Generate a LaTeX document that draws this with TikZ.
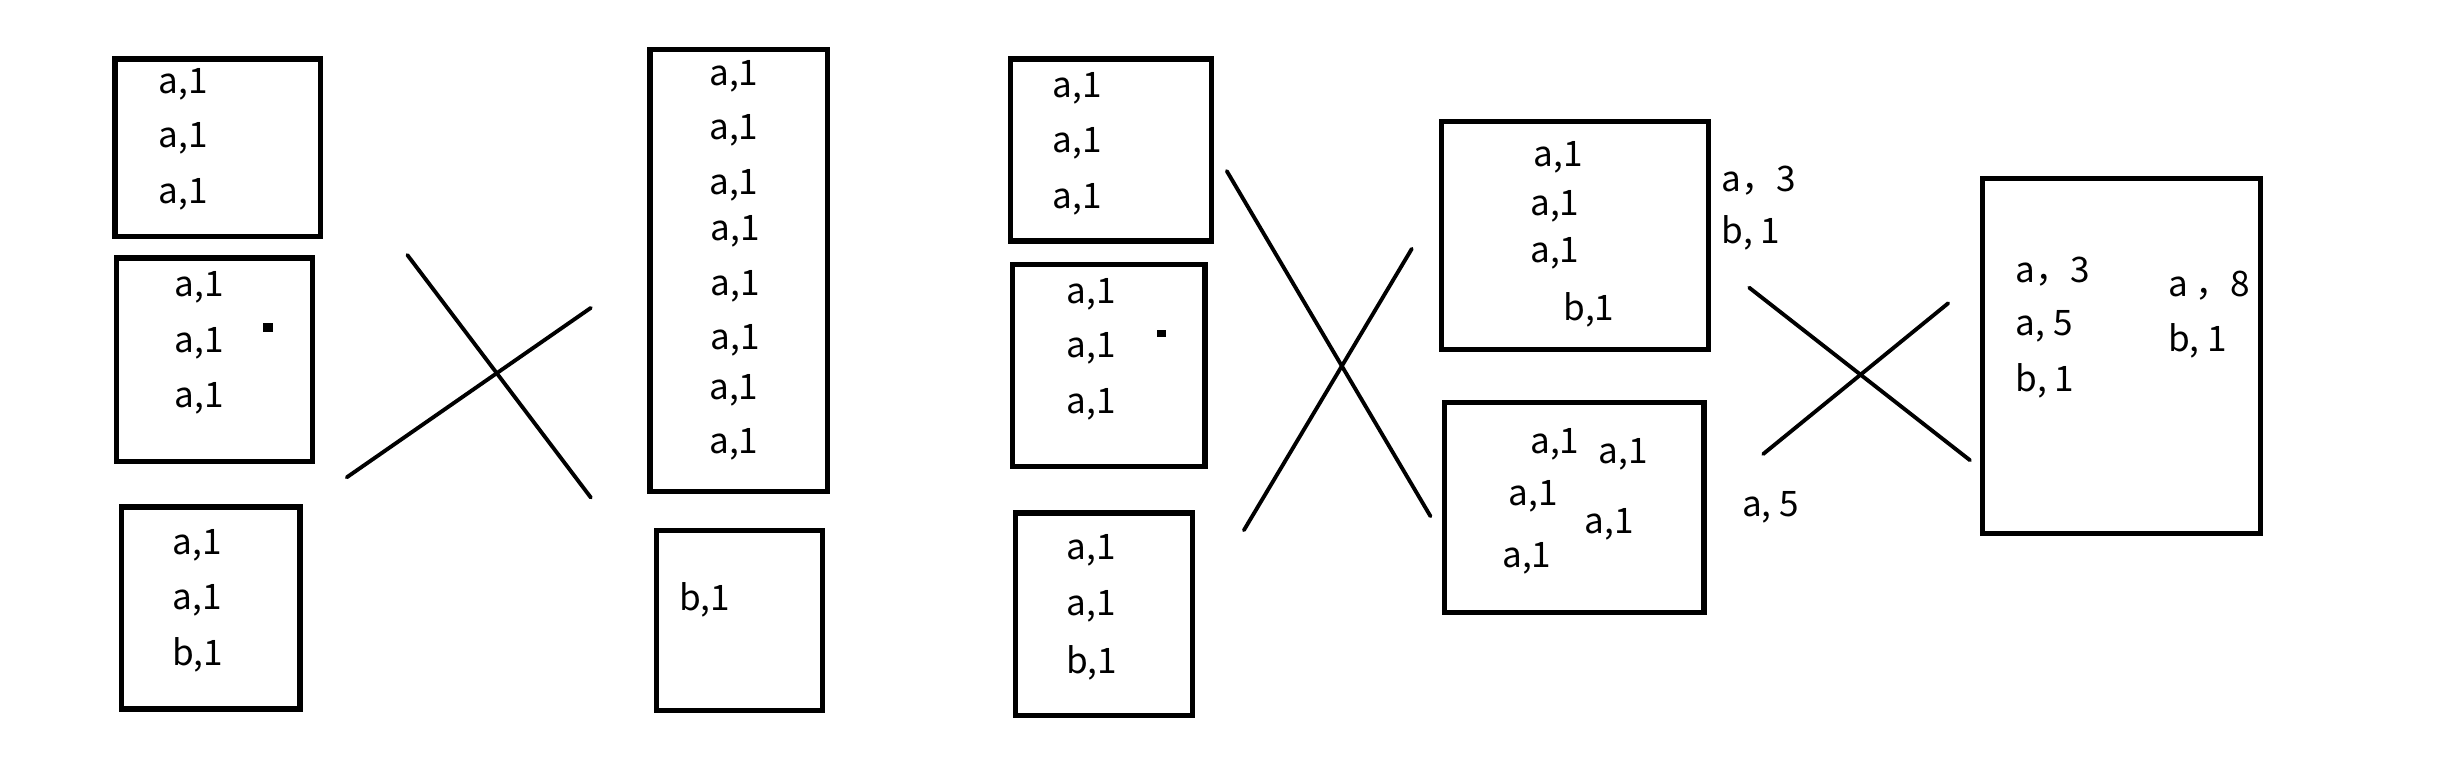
\documentclass[tikz,border=0pt]{standalone}
\usepackage{fontspec}
\setmainfont{Noto Sans CJK SC}
\usepackage{tikz}

\tikzset{
  box/.style={line width=1.5pt},
  cross/.style={line width=1.1pt,line cap=round},
  lbl/.style={inner sep=0pt,font=\fontsize{10}{12}\selectfont},
}

\begin{document}
\begin{tikzpicture}[x=0.1555mm,y=-0.1555mm]
\useasboundingbox (0,0) rectangle (1568,491);
% first stage
\draw[box] (74,38) rectangle (206,152);
\node[lbl] (p1a) at (118,54) {a,1};
\node[lbl] (p1b) at (118,89) {a,1};
\node[lbl] (p1c) at (118,125) {a,1};
\draw[box] (75,166) rectangle (201,297);
\node[lbl] (p2a) at (128,185) {a,1};
\node[lbl] (p2b) at (128,221) {a,1};
\node[lbl] (p2c) at (128,256) {a,1};
\fill (169,208) rectangle (175.5,213.5);
\draw[box] (78,326) rectangle (193,456);
\node[lbl] (p3a) at (127,351) {a,1};
\node[lbl] (p3b) at (127,386) {a,1};
\node[lbl] (p3c) at (127,421) {b,1};
\coordinate (xa1) at (262,164);
\coordinate (xa2) at (380,320);
\coordinate (xb1) at (223,307);
\coordinate (xb2) at (380,198);
\draw[cross] (xa1) -- (xa2);
\draw[cross] (xb1) -- (xb2);
\draw[box] (418,32) rectangle (532,316);
\node[lbl] (r1a) at (472,49) {a,1};
\node[lbl] (r1b) at (472,84) {a,1};
\node[lbl] (r1c) at (472,119) {a,1};
\node[lbl] (r1d) at (473,149) {a,1};
\node[lbl] (r1e) at (473,184) {a,1};
\node[lbl] (r1f) at (473,219) {a,1};
\node[lbl] (r1g) at (472,251) {a,1};
\node[lbl] (r1h) at (472,286) {a,1};
\draw[box] (422,341) rectangle (529,457);
\node[lbl] (r2a) at (453,386) {b,1};
% second stage
\draw[box] (650,38) rectangle (779,155);
\node[lbl] (q1a) at (693,57) {a,1};
\node[lbl] (q1b) at (693,92) {a,1};
\node[lbl] (q1c) at (693,128) {a,1};
\draw[box] (651,170) rectangle (775,300);
\node[lbl] (q2a) at (702,189) {a,1};
\node[lbl] (q2b) at (702,224) {a,1};
\node[lbl] (q2c) at (702,260) {a,1};
\fill (744,212) rectangle (750,217);
\draw[box] (653,330) rectangle (767,460);
\node[lbl] (q3a) at (702,354) {a,1};
\node[lbl] (q3b) at (702,390) {a,1};
\node[lbl] (q3c) at (702,426) {b,1};
\coordinate (ya1) at (789,110);
\coordinate (ya2) at (920,332);
\coordinate (yb1) at (800,341);
\coordinate (yb2) at (908,160);
\draw[cross] (ya1) -- (ya2);
\draw[cross] (yb1) -- (yb2);
\draw[box] (927,78) rectangle (1099,225);
\node[lbl] (s1a) at (1002,101) {a,1};
\node[lbl] (s1b) at (1000,133) {a,1};
\node[lbl] (s1c) at (1000,163) {a,1};
\node[lbl] (s1d) at (1022,199) {b,1};
\draw[box] (929,259) rectangle (1096,394);
\node[lbl] (s2a) at (1000,286) {a,1};
\node[lbl] (s2b) at (1044,292) {a,1};
\node[lbl] (s2c) at (986,319) {a,1};
\node[lbl] (s2d) at (1035,337) {a,1};
\node[lbl] (s2e) at (982,359) {a,1};
\node[lbl,anchor=west] (t1) at (1107,116) {a，3};
\node[lbl,anchor=west] (t2) at (1107,150) {b, 1};
\node[lbl,anchor=west] (t3) at (1120,326) {a, 5};
\coordinate (za1) at (1125,185);
\coordinate (za2) at (1267,296);
\coordinate (zb1) at (1134,292);
\coordinate (zb2) at (1253,195);
\draw[cross] (za1) -- (za2);
\draw[cross] (zb1) -- (zb2);
\draw[box] (1275,115) rectangle (1454,343);
\node[lbl,anchor=west] (u1) at (1296,175) {a，3};
\node[lbl,anchor=west] (u2) at (1296,210) {a, 5};
\node[lbl,anchor=west] (u3) at (1296,245) {b, 1};
\node[lbl,anchor=west] (u4) at (1394,184) {a ，8};
\node[lbl,anchor=west] (u5) at (1394,219) {b, 1};
\end{tikzpicture}
\end{document}
